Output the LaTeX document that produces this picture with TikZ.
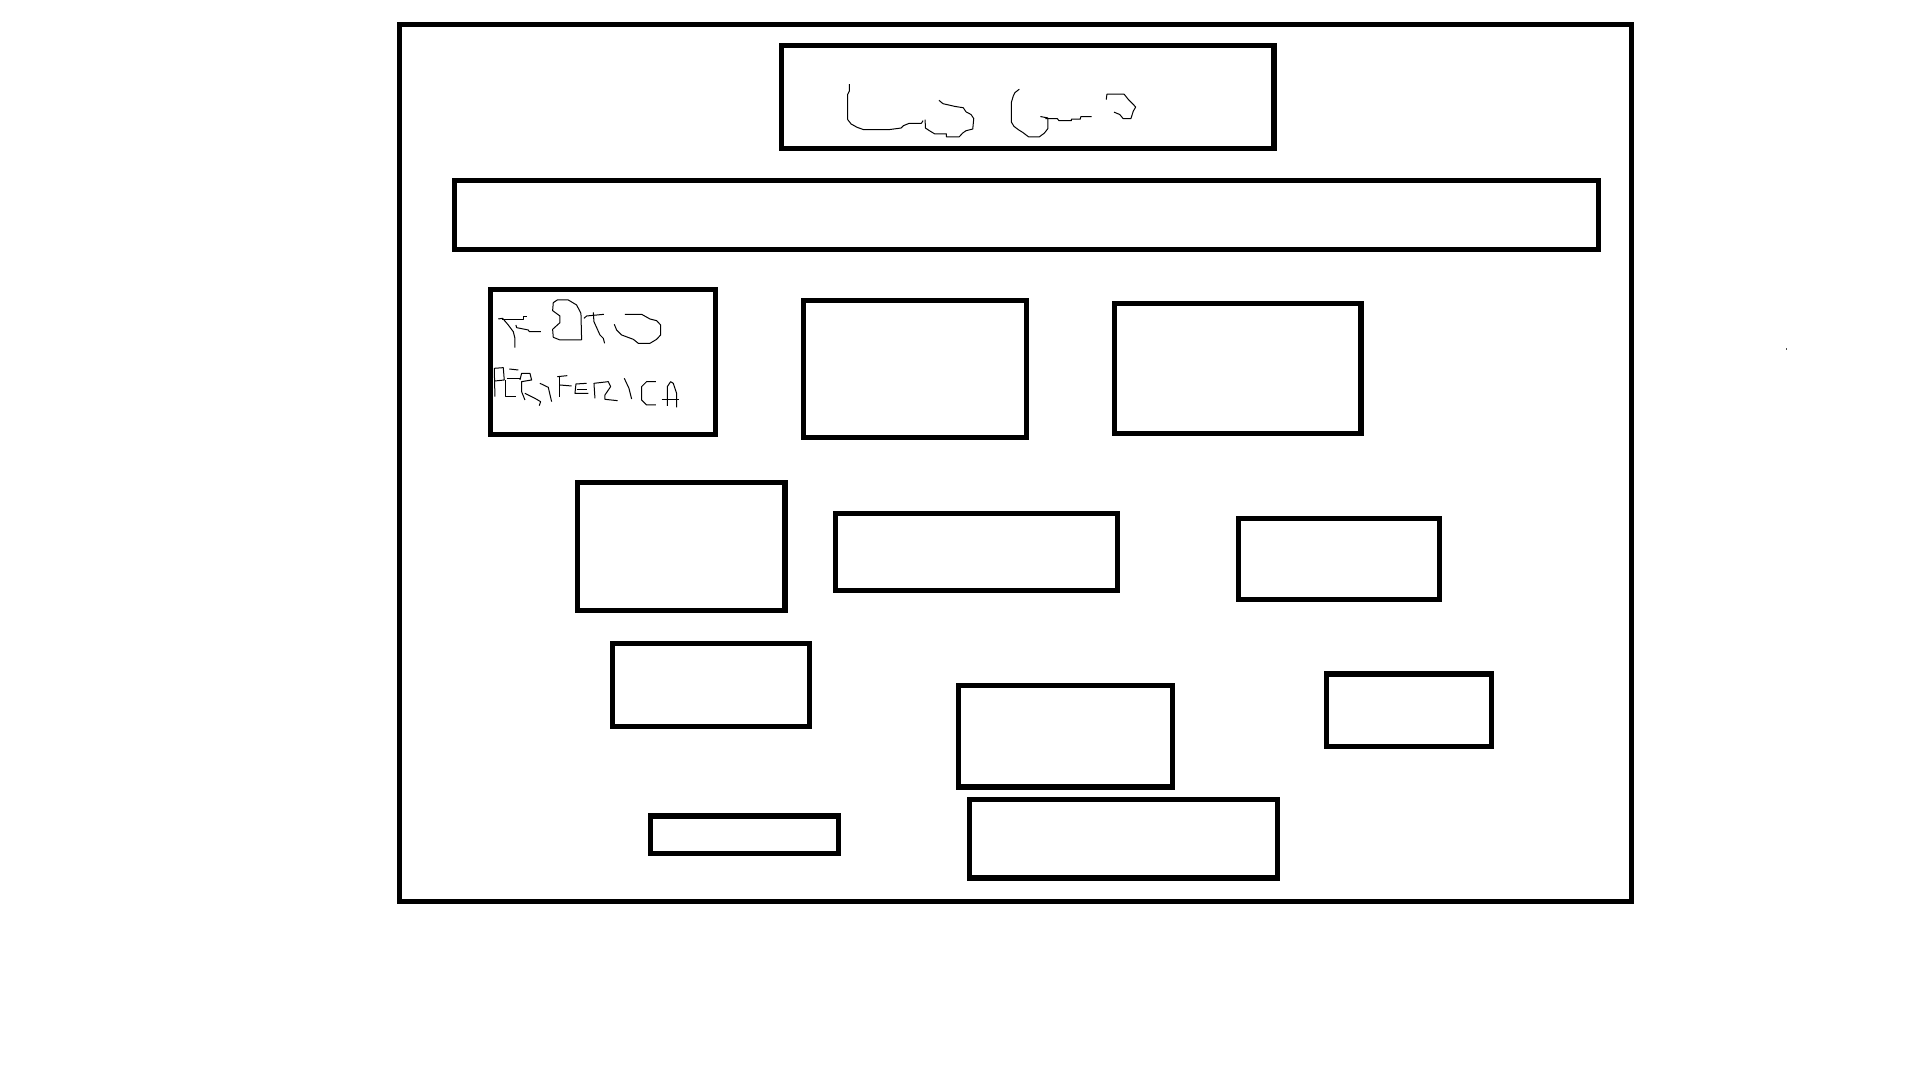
\documentclass[tikz,border=0pt]{standalone}
\tikzset{
  framebox/.style={draw=black,line width=2.6pt,line join=miter},
  sketch/.style={draw=black,line width=0.5pt,line join=round,line cap=butt},
}
\begin{document}
\begin{tikzpicture}[x=0.6127pt,y=-0.6127pt]
\useasboundingbox (0,0) rectangle (1567,879.8);
\fill[white] (0,0) rectangle (1567,879.8);
\foreach \a/\b/\c/\d in {
  326/20/1331.5/736,
  638/37/1039.7/121.5,
  371/147/1304.7/203.5,
  400/236/583.7/354.5,
  656/245/837.7/357,
  909.7/248/1110.7/354,
  471.5/394/640.7/498,
  682/419/912/482,
  1011/423/1174.8/489.5,
  500/525/660.7/593,
  782/559.7/956.8/642.3,
  1082.5/550/1217.3/609.5,
  531/666/684.2/696.7,
  791/652.6/1042.6/716.5}
  \draw[framebox] (\a,\b) rectangle (\c,\d);
% LOGO sketch
\begin{scope}[shift={(628.4,24.5)},x=0.169pt,y=-0.169pt]
\draw[sketch] (235,160)--(235,180)--(230,190)--(230,265)--(240,278)--(258,288)--(278,295)--(350,295)--(388,290)--(395,283)--(412,276)--(448,276)--(453,268);
\draw[sketch] (459,265)--(460,290)--(472,298)--(487,307)--(522,307)--(522,316)--(560,316)--(570,305)--(580,298)--(600,293)--(603,262)--(595,250)--(580,242)--(572,230)--(547,226)--(512,218)--(500,208);
\draw[sketch] (738,175)--(725,185)--(720,195)--(714,215)--(714,272)--(722,285)--(735,295)--(748,303)--(765,316)--(797,316)--(812,305)--(822,292)--(822,260)--(800,256);
\draw[sketch] (815,262)--(850,262)--(855,268)--(892,268)--(892,264)--(918,264)--(920,256)--(952,256);
\draw[sketch] (995,206)--(997,190)--(1048,190)--(1060,205)--(1075,220)--(1082,228)--(1075,240)--(1068,262)--(1045,262)--(1035,250)--(1018,243);
\end{scope}
% FOTO PERIFERICA sketch
\begin{scope}[shift={(391.7,228.5)},x=0.1667pt,y=-0.1667pt]
\draw[sketch] (55,117)--(68,115)--(85,135)--(100,155)--(105,175)--(105,203);
\draw[sketch] (65,118)--(132,118)--(132,110)--(140,110);
\draw[sketch] (108,135)--(110,143)--(145,150)--(148,155)--(183,155);
\draw[sketch] (305,180)--(240,180)--(220,172)--(218,148)--(240,128)--(240,108)--(218,92)--(220,68)--(232,60)--(265,60)--(290,75)--(303,100)--(305,180);
\draw[sketch] (312,115)--(320,108)--(372,103);
\draw[sketch] (340,97)--(342,125)--(360,165)--(370,175)--(374,190);
\draw[sketch] (435,103)--(485,103)--(510,117)--(530,122)--(542,135)--(542,165)--(530,178)--(510,190)--(475,190)--(460,178)--(425,165)--(410,150)--(403,133);
\draw[sketch] (45,350)--(43,265)--(70,263)--(73,300)--(45,303);
\draw[sketch] (88,267)--(115,270);
\draw[sketch] (80,295)--(120,295);
\draw[sketch] (76,300)--(76,350)--(108,350);
\draw[sketch] (120,300)--(125,280)--(150,280)--(155,300)--(125,305)--(125,335)--(135,360);
\draw[sketch] (135,340)--(165,355)--(182,365)--(178,377);
\draw[sketch] (180,310)--(205,322)--(215,365);
\draw[sketch] (232,290)--(262,287);
\draw[sketch] (240,290)--(240,350);
\draw[sketch] (240,315)--(275,318);
\draw[sketch] (320,310)--(288,312)--(285,340)--(325,340);
\draw[sketch] (290,330)--(320,330);
\draw[sketch] (345,355)--(342,310)--(385,305)--(392,320)--(375,345)--(375,358)--(413,362);
\draw[sketch] (433,295)--(447,325)--(455,357);
\draw[sketch] (528,305)--(500,305)--(485,320)--(485,360)--(500,375)--(528,375);
\draw[sketch] (545,358)--(597,358);
\draw[sketch] (562,378)--(562,320)--(572,305)--(580,310)--(590,340)--(590,382);
\end{scope}
% stray dot
\fill[black!70] (1457.3,284.2) rectangle (1458.3,285.6);
\end{tikzpicture}
\end{document}
